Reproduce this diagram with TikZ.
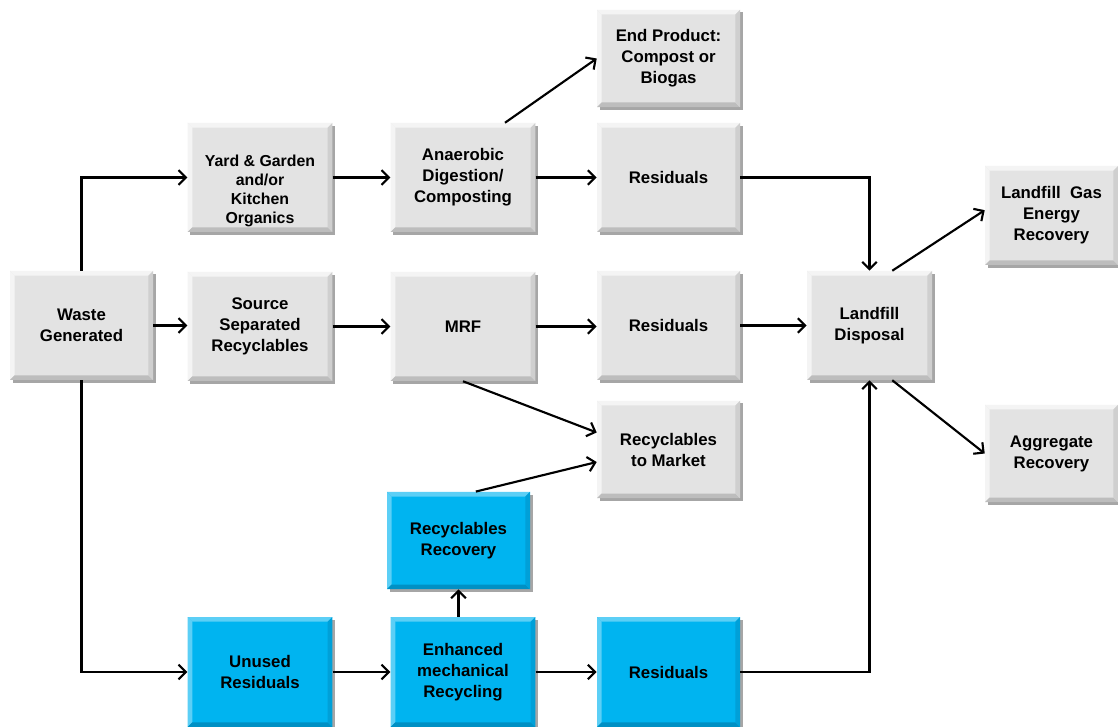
\documentclass[tikz,border=0pt]{standalone}
\usepackage{fontspec}
\setmainfont{Liberation Sans}
\usetikzlibrary{arrows.meta,shadows,calc}
\definecolor{boxgray}{HTML}{E3E3E3}
\definecolor{graylight}{HTML}{F4F4F4}
\definecolor{graydark}{HTML}{BDBDBD}
\definecolor{grayside}{HTML}{CFCFCF}
\definecolor{boxblue}{HTML}{00B4F0}
\definecolor{bluelight}{HTML}{5CCFF6}
\definecolor{bluedark}{HTML}{0090C4}
\definecolor{blueside}{HTML}{00A0D8}
\newcommand\mybevel[3]{%
  \coordinate (bsw) at (path picture bounding box.south west);
  \coordinate (bne) at (path picture bounding box.north east);
  \coordinate (bnw) at (path picture bounding box.north west);
  \coordinate (bse) at (path picture bounding box.south east);
  \fill[#1] (bnw) -- (bne) -- ([xshift=-3.5pt,yshift=-3.5pt]bne) -- ([xshift=3.5pt,yshift=-3.5pt]bnw) -- cycle;
  \fill[#1] (bnw) -- (bsw) -- ([xshift=3.5pt,yshift=3.5pt]bsw) -- ([xshift=3.5pt,yshift=-3.5pt]bnw) -- cycle;
  \fill[#2] (bsw) -- (bse) -- ([xshift=-3.5pt,yshift=3.5pt]bse) -- ([xshift=3.5pt,yshift=3.5pt]bsw) -- cycle;
  \fill[#3] (bne) -- (bse) -- ([xshift=-3.5pt,yshift=3.5pt]bse) -- ([xshift=-3.5pt,yshift=-3.5pt]bne) -- cycle;
}
\tikzset{
  base/.style={rectangle, inner sep=2pt, align=center,
    font=\fontsize{12.6}{15.75}\selectfont\bfseries,
    drop shadow={shadow xshift=2pt, shadow yshift=-2pt, opacity=0.35, fill=black}},
  gbox/.style={base, fill=boxgray, path picture={\mybevel{graylight}{graydark}{grayside}}},
  bbox/.style={base, fill=boxblue, path picture={\mybevel{bluelight}{bluedark}{blueside}}},
  std/.style={minimum width=108.5pt, minimum height=81.75pt},
  short/.style={minimum width=107.25pt, minimum height=73pt},
  conn/.style={line width=1.6pt, -{Straight Barb[length=5.5pt,width=11pt,line width=1.6pt]}},
}
\begin{document}
\begin{tikzpicture}[x=0.75pt,y=-0.75pt]
\useasboundingbox[fill=white] (0,0) rectangle (1118,727);
\node[gbox,std,minimum width=107.25pt] (waste) at (81.5,325.5) {Waste\\Generated};
\node[gbox,std,font=\fontsize{11.9}{14.25}\selectfont\bfseries] (yard) at (260,177.5) {\raisebox{-13.5pt}[0pt][0pt]{\begin{tabular}{@{}c@{}}Yard \& Garden\\and/or\\Kitchen\\Organics\end{tabular}}};
\node[gbox,std] (source) at (260,326.5) {Source\\Separated\\Recyclables};
\node[bbox,std,minimum height=82.5pt] (unused) at (260,672) {Unused\\Residuals};
\node[gbox,std] (anaer) at (463,177.5) {Anaerobic\\Digestion/\\Composting};
\node[gbox,std] (mrf) at (463,326.5) {MRF};
\node[bbox,short] (recrec) at (458.5,540.5) {Recyclables\\Recovery};
\node[bbox,std,minimum height=82.5pt] (enh) at (463,672) {Enhanced\\mechanical\\Recycling};
\node[gbox,short] (endp) at (668.5,58.5) {End Product:\\Compost or\\Biogas};
\node[gbox,std,minimum width=107.25pt] (res1) at (668.5,177.5) {Residuals};
\node[gbox,std,minimum width=107.25pt] (res2) at (668.5,325.5) {Residuals};
\node[gbox,short] (market) at (668.5,449.5) {Recyclables\\to Market};
\node[bbox,std,minimum width=107.25pt,minimum height=82.5pt] (res3) at (668.5,672) {Residuals};
\node[gbox,std,minimum width=93.75pt] (landfill) at (869.5,325.5) {Landfill\\Disposal};
\node[gbox,minimum width=99.75pt,minimum height=74.25pt] (gas) at (1051.5,215.5) {Landfill\ \ Gas\\Energy\\Recovery};
\node[gbox,minimum width=99.75pt,minimum height=73pt] (agg) at (1051.5,453.5) {Aggregate\\Recovery};

\draw[conn] (waste.north) |- (yard.west);
\draw[conn] (waste.east) -- (waste.east -| source.west);
\draw[conn] (waste.south) |- (unused.west);
\draw[conn] (yard.east) -- (anaer.west);
\draw[conn] (anaer.east) -- (res1.west);
\draw[conn] ([xshift=31.5pt]anaer.north) -- (endp.west);
\draw[conn] (res1.east) -| (landfill.north);
\draw[conn] (source.east) -- (mrf.west);
\draw[conn] (mrf.east) -- (mrf.east -| res2.west);
\draw[conn] (res2.east) -- (res2.east -| landfill.west);
\draw[conn] (mrf.south) -- ([yshift=12.75pt]market.west);
\draw[conn] ([xshift=13pt]recrec.north) -- ([yshift=-9.4pt]market.west);
\draw[conn] (enh.north -| recrec.south) -- (recrec.south);
\draw[conn] (unused.east) -- (enh.west);
\draw[conn] (enh.east) -- (res3.west);
\draw[conn] (res3.east) -| (landfill.south);
\draw[conn] ([xshift=-30pt]landfill.north east) -- ([yshift=4pt]gas.west);
\draw[conn] ([xshift=-30pt]landfill.south east) -- (agg.west);
\end{tikzpicture}
\end{document}
